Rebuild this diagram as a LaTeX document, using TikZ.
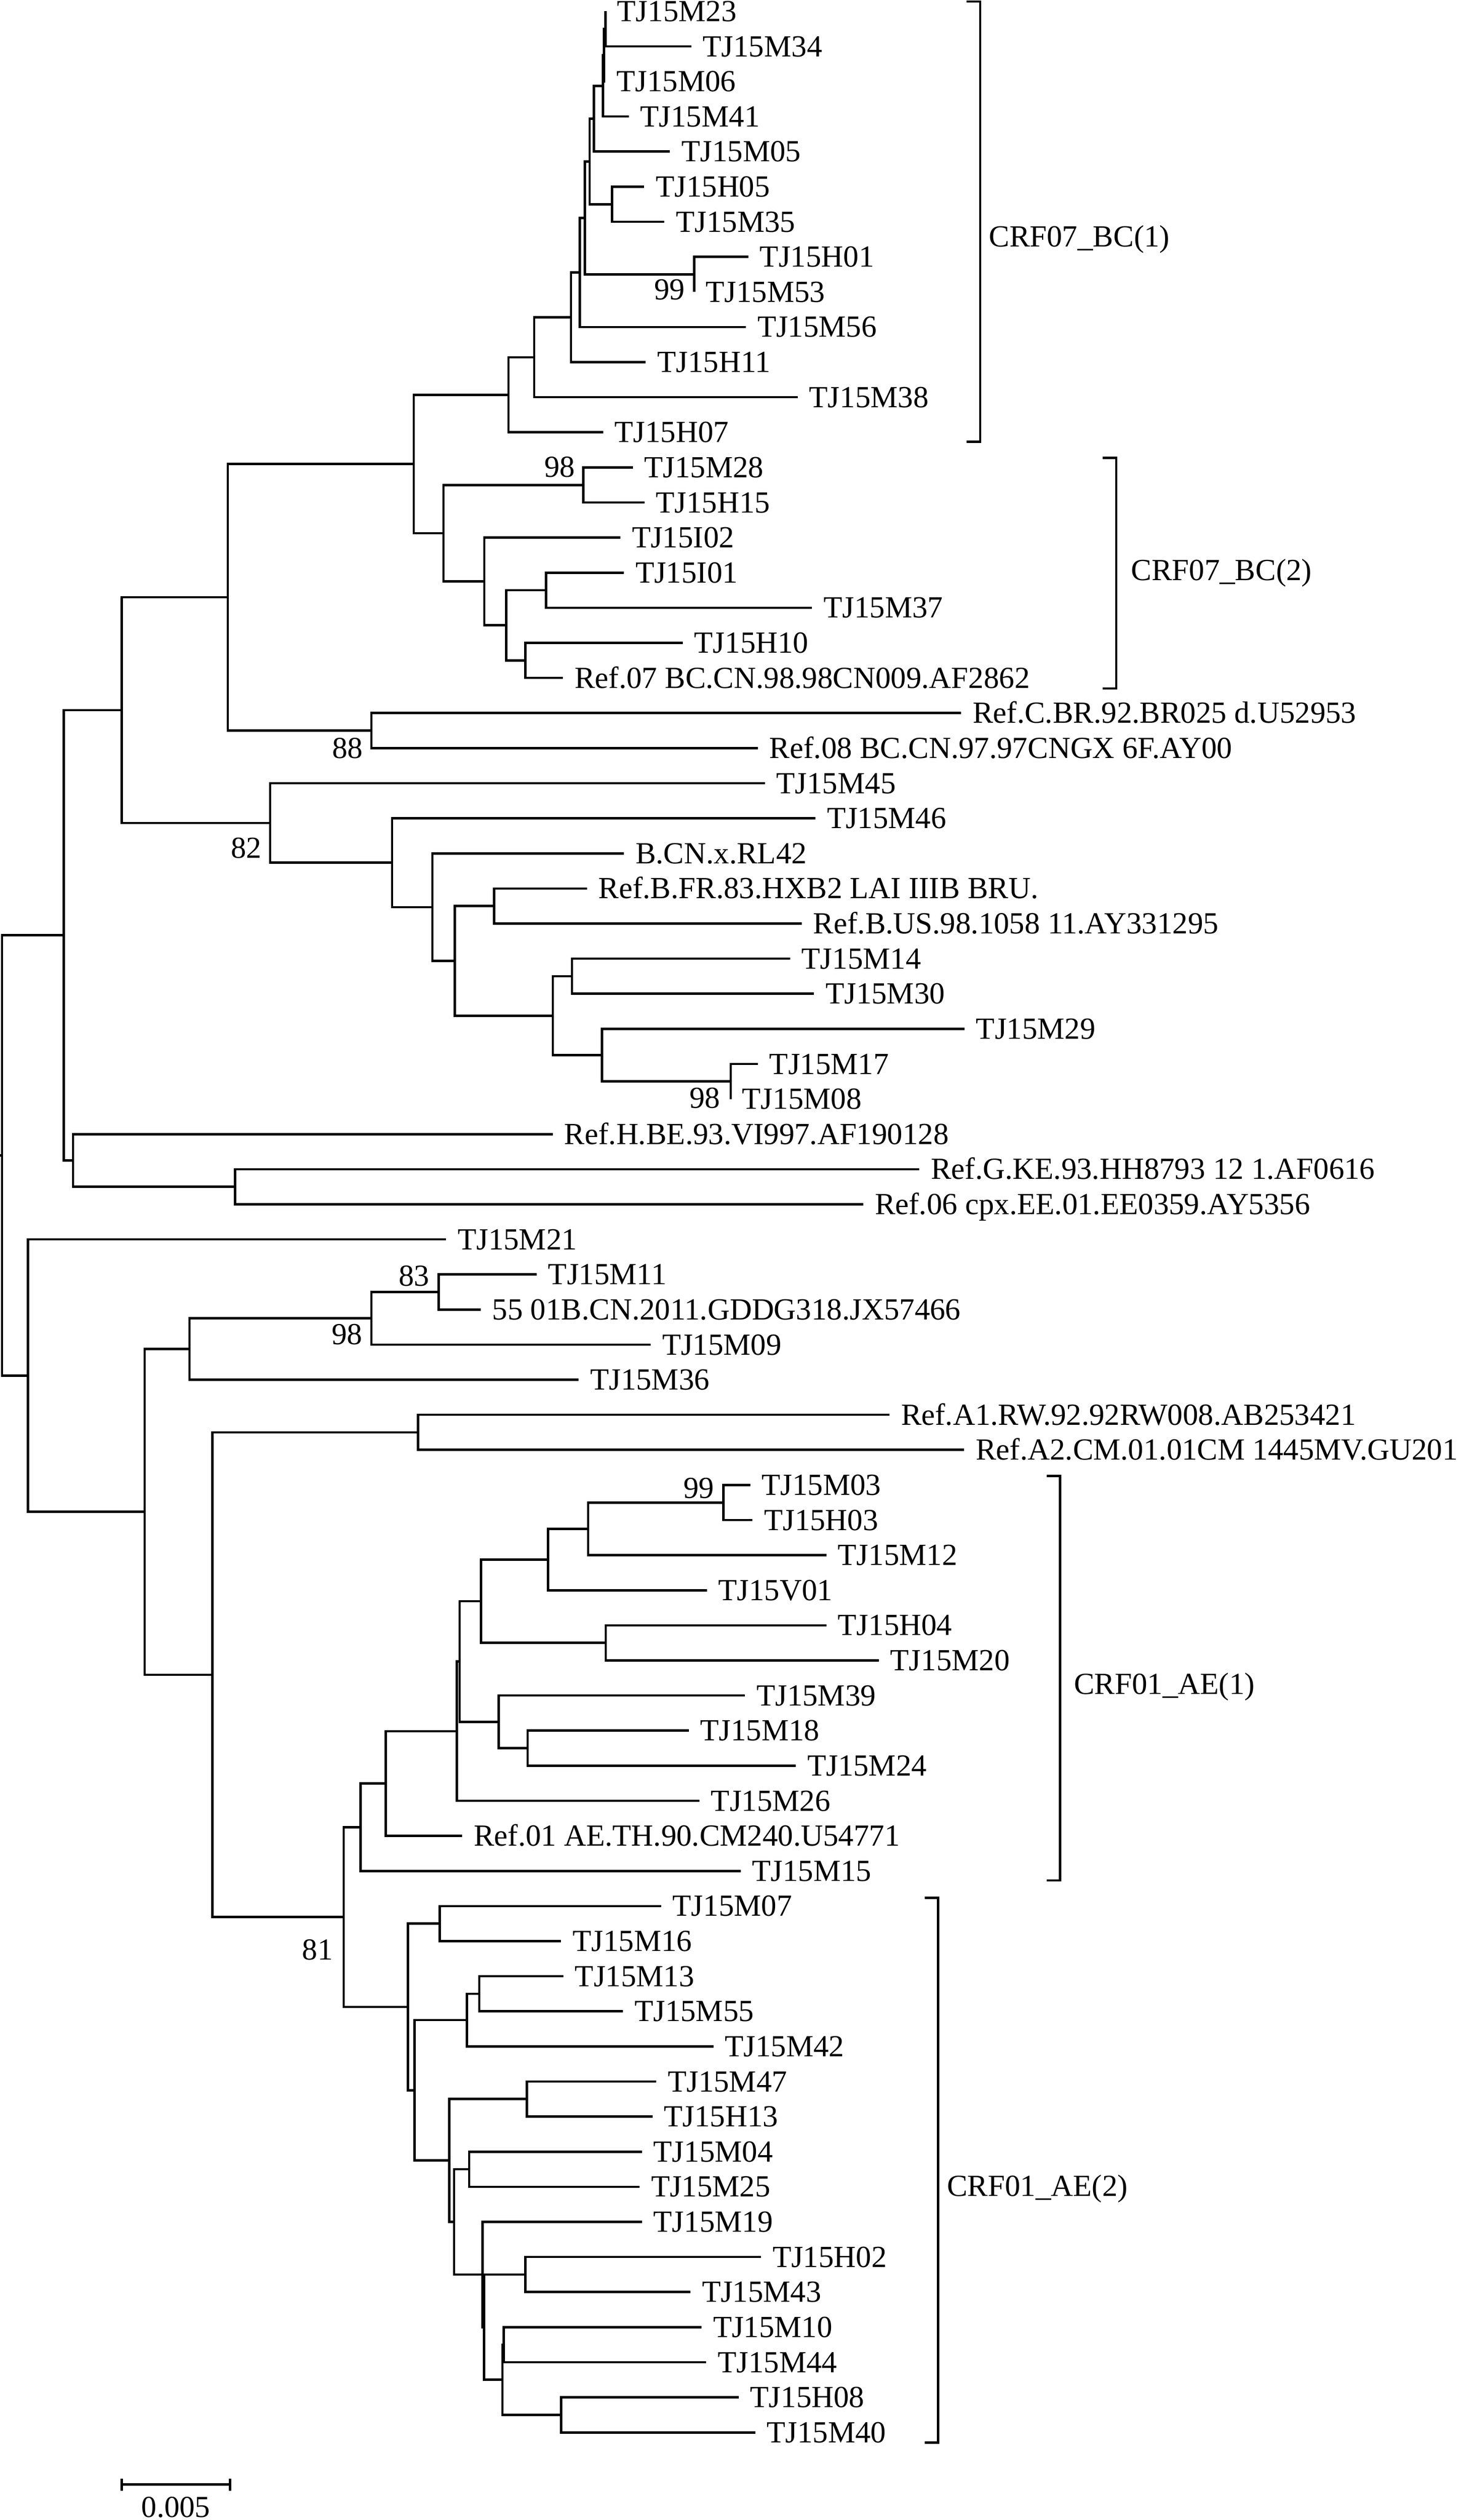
\documentclass[tikz,border=0pt]{standalone}
\usepackage{fontspec}
\setmainfont{Liberation Serif}
\begin{document}
\begin{tikzpicture}[x=1pt,y=-1pt,
  declare function={L(\k)=7+21.84*(\k-1);},
  branch/.style={line width=1.45pt},
  lab/.style={anchor=base west,inner sep=0pt,xshift=7pt,yshift=-6.3pt,font=\fontsize{19.1}{22}\selectfont},
  boot/.style={anchor=base east,inner sep=0pt,font=\fontsize{19}{22}\selectfont},
  clade/.style={anchor=base west,inner sep=0pt,font=\fontsize{19.1}{22}\selectfont}]
\useasboundingbox (0,0) rectangle (911,1568.5);
% leaves
\foreach \i/\x/\t in {
1/377/TJ15M23, 2/430.3/TJ15M34, 3/376.6/TJ15M06, 4/391.4/TJ15M41, 5/417/TJ15M05,
6/401/TJ15H05, 7/413.6/TJ15M35, 8/465.8/TJ15H01, 9/432.1/TJ15M53, 10/464.3/TJ15M56,
11/402/TJ15H11, 12/496.5/TJ15M38, 13/375.4/TJ15H07, 14/393.9/TJ15M28, 15/401.1/TJ15H15,
16/386.2/TJ15I02, 17/388.4/TJ15I01, 18/505.5/TJ15M37, 19/425/TJ15H10,
20/350.5/Ref.07 BC.CN.98.98CN009.AF2862, 21/598.3/Ref.C.BR.92.BR025 d.U52953,
22/471.8/Ref.08 BC.CN.97.97CNGX 6F.AY00, 23/476.1/TJ15M45, 24/507.6/TJ15M46,
25/388.4/B.CN.x.RL42, 26/365.4/Ref.B.FR.83.HXB2 LAI IIIB BRU., 27/499.1/Ref.B.US.98.1058 11.AY331295,
28/491.8/TJ15M14, 29/506.7/TJ15M30, 30/600.4/TJ15M29, 31/471.8/TJ15M17, 32/454.8/TJ15M08,
33/344.1/Ref.H.BE.93.VI997.AF190128, 34/572.3/Ref.G.KE.93.HH8793 12 1.AF0616,
35/537.4/Ref.06 cpx.EE.01.EE0359.AY5356, 36/277.7/TJ15M21, 37/334.1/TJ15M11,
38/299.2/55 01B.CN.2011.GDDG318.JX57466, 39/405/TJ15M09, 40/360.2/TJ15M36,
41/553.7/Ref.A1.RW.92.92RW008.AB253421, 42/600.2/Ref.A2.CM.01.01CM 1445MV.GU201,
43/467/TJ15M03, 44/468.4/TJ15H03, 45/514.4/TJ15M12, 46/440/TJ15V01, 47/514.4/TJ15H04,
48/547/TJ15M20, 49/463.7/TJ15M39, 50/428.7/TJ15M18, 51/495.4/TJ15M24, 52/435.4/TJ15M26,
53/287.7/Ref.01 AE.TH.90.CM240.U54771, 54/461/TJ15M15, 55/411.5/TJ15M07, 56/349.3/TJ15M16,
57/350.7/TJ15M13, 58/387.8/TJ15M55, 59/444.1/TJ15M42, 60/408.5/TJ15M47, 61/406.1/TJ15H13,
62/399.6/TJ15M04, 63/398.1/TJ15M25, 64/399.6/TJ15M19, 65/473.7/TJ15H02, 66/429.8/TJ15M43,
67/436.7/TJ15M10, 68/439.6/TJ15M44, 69/459.8/TJ15H08, 70/470.1/TJ15M40}
{ \coordinate (l\i) at (\x,{L(\i)}); \node[lab] (t\i) at (l\i) {\t}; }
% internal nodes
\foreach \n/\x/\k in {
A/377/1.5, B/376/2.25, C/375.4/3.125, D/369.6/4.0625, HM/381/6.5, E/367/5.28125,
N99/432.1/8.5, F/364.1/6.890625, G/361/8.4453, H/355.4/9.7227, I/332.5/10.8613, J/316.5/11.9307,
M98/363.2/14.5, P/339.8/17.5, Q/327/19.5, O/315.1/18.5, N/301.5/17.25, L/276/15.875, K/257.6/13.9028,
S/231.2/21.5, R/141.8/17.7014, Y/307.5/26.5, AA/356/28.5, N98b/454.8/31.5, AB/374.7/30.75,
Z/344.1/29.625, X/283.2/28.0625, W/269.1/26.53125, V/244/25.2656, U/168.2/24.1328, T/75.8/20.9171,
AE/146.4/34.5, AD/45.5/33.75, AC/39.6/27.3336, N83/273.1/37.5, N98c/231.2/38.25, AJ/117.9/39.125,
AL/260.3/41.5, N99d/450.4/43.5, AW/366.1/44.25, AU/341.1/45.125, AV/377.1/47.5, AS/299.4/46.3125,
AX/328.4/50.5, AT/310.4/49.75, AR/286.1/48.03125, AQ/284.4/50.0156, AP/240.1/51.5078, AN/224.4/52.7539,
AY/273.7/55.5, BC/298.3/57.5, BA/290.6/58.25, BD/327.9/60.5, BF/292.1/62.5, BI/327/65.5,
BL/313.6/67.5, BK/349.3/69.5, BJ/312.8/68.5, BG2/301.4/67, BG1/300.4/65.5, BE/282.6/64,
BB/279.7/62.25, AZ/258/60.25, AO/253.9/57.875, AM/213.9/55.3145, AK/132.3/48.4072,
AI/90/43.7661, AH/17.4/39.8831, Root/1.2/33.6083}
{ \coordinate (\n) at (\x,{L(\k)}); }
% branches
\foreach \p/\c in {
A/l1, A/l2, B/A, B/l3, C/B, C/l4, D/C, D/l5, HM/l6, HM/l7, E/D, E/HM, N99/l8, N99/l9,
F/E, F/N99, G/F, G/l10, H/G, H/l11, I/H, I/l12, J/I, J/l13, M98/l14, M98/l15,
P/l17, P/l18, Q/l19, Q/l20, O/P, O/Q, N/l16, N/O, L/M98, L/N, K/J, K/L, S/l21, S/l22,
R/K, R/S, Y/l26, Y/l27, AA/l28, AA/l29, N98b/l31, N98b/l32, AB/l30, AB/N98b, Z/AA, Z/AB,
X/Y, X/Z, W/l25, W/X, V/l24, V/W, U/l23, U/V, T/R, T/U, AE/l34, AE/l35, AD/l33, AD/AE,
AC/T, AC/AD, N83/l37, N83/l38, N98c/N83, N98c/l39, AJ/N98c, AJ/l40, AL/l41, AL/l42,
N99d/l43, N99d/l44, AW/N99d, AW/l45, AU/AW, AU/l46, AV/l47, AV/l48, AS/AU, AS/AV,
AX/l50, AX/l51, AT/l49, AT/AX, AR/AS, AR/AT, AQ/AR, AQ/l52, AP/AQ, AP/l53, AN/AP, AN/l54,
AY/l55, AY/l56, BC/l57, BC/l58, BA/BC, BA/l59, BD/l60, BD/l61, BF/l62, BF/l63,
BI/l65, BI/l66, BL/l67, BL/l68, BK/l69, BK/l70, BJ/BL, BJ/BK, BG2/BI, BG2/BJ,
BG1/l64, BG1/BG2, BE/BF, BE/BG1, BB/BD, BB/BE, AZ/BA, AZ/BB, AO/AY, AO/AZ,
AM/AN, AM/AO, AK/AL, AK/AM, AI/AJ, AI/AK, AH/l36, AH/AI, Root/AC, Root/AH}
{ \draw[branch] (\p) |- (\c); }
\draw[branch] (Root) -- ++(-1.2,0);
% bootstrap values
\node[boot] (bs1) at (426.5,186.5) {99};
\node[boot] (bs2) at (358,296.8) {98};
\node[boot] (bs3) at (226,471.9) {88};
\node[boot] (bs4) at (163,534) {82};
\node[boot] (bs5) at (448.5,689.8) {98};
\node[boot] (bs6) at (267.5,800.4) {83};
\node[boot] (bs7) at (225.7,836.7) {98};
\node[boot] (bs8) at (444.6,932.5) {99};
\node[boot] (bs9) at (207.4,1219.9) {81};
% clade brackets
\coordinate (b1t) at (610.1,0.9);   \coordinate (b1b) at (610.1,275);
\coordinate (b2t) at (694.8,284.9); \coordinate (b2b) at (694.8,428.5);
\coordinate (b3t) at (659.9,918.6); \coordinate (b3b) at (659.9,1170.4);
\coordinate (b4t) at (584,1181.2);  \coordinate (b4b) at (584,1520.3);
\foreach \b in {b1,b2,b3,b4}
  \draw[branch] ([xshift=-8.3pt]\b t) -- (\b t) -- (\b b) -- ([xshift=-8.3pt]\b b);
\node[clade] (c1) at (615.4,153.7) {CRF07\_BC(1)};
\node[clade] (c2) at (703.9,361.3) {CRF07\_BC(2)};
\node[clade] (c3) at (668.4,1054.4) {CRF01\_AE(1)};
\node[clade] (c4) at (589.3,1367) {CRF01\_AE(2)};
% scale bar
\coordinate (s1) at (75.8,1546.4);
\coordinate (s2) at (143.2,1546.4);
\draw[branch] (s1) -- (s2);
\draw[branch] ([yshift=3.7pt]s1) -- ([yshift=-3.8pt]s1);
\draw[branch] ([yshift=3.7pt]s2) -- ([yshift=-3.8pt]s2);
\node[boot,anchor=base] (sl) at (109.5,1566.6) {0.005};
\end{tikzpicture}
\end{document}
